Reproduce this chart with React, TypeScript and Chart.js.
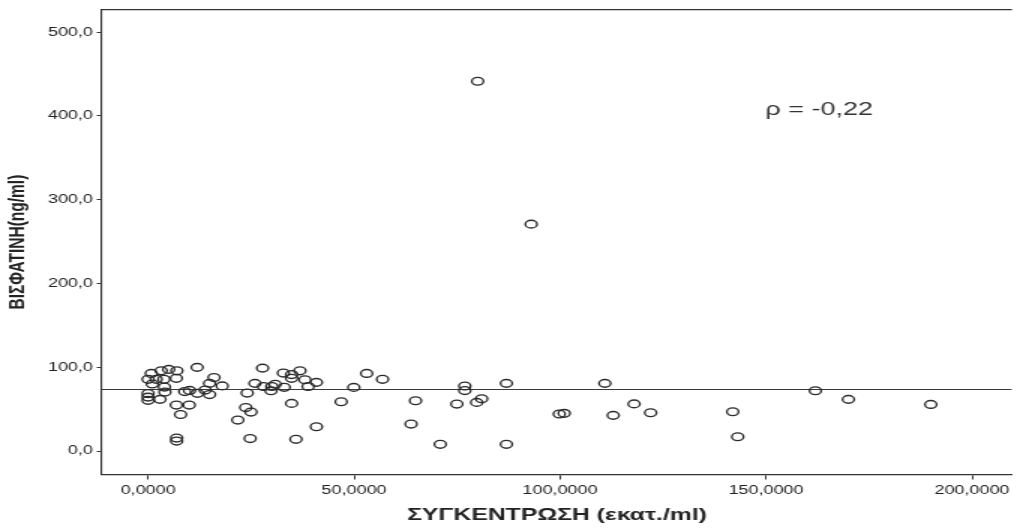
import { useEffect, useRef } from "react";
import { Chart, registerables } from "chart.js";

Chart.register(...registerables);

// Sperm concentration (million/ml) per subject
const concentration = [
  0.77, 3.18, 5.0, 6.98, 0.0, 1.97, 3.85, 6.86, 1.03, 3.97, 4.09, 0.0, 0.0, 0.0,
  2.89, 11.91, 16.0, 14.92, 18.0, 8.9, 10.06, 11.98, 13.84, 14.92, 6.86, 9.99,
  7.89, 6.93, 6.93, 27.79, 25.94, 24.06, 23.7, 24.98, 21.78, 24.78, 28.03, 30.03,
  30.85, 29.84, 33.04, 32.84, 34.84, 36.86, 34.84, 38.07, 40.86, 38.86, 34.84,
  40.86, 35.9, 46.87, 49.93, 53.06, 56.91, 64.92, 63.84, 70.93, 76.88, 76.88,
  74.95, 79.76, 80.97, 86.98, 86.98, 99.81, 101.01, 110.88, 112.9, 117.97,
  121.99, 141.92, 143.12, 161.98, 170.0, 190.0, 80.0, 93.0,
];

// Visfatin (ng/ml) per subject
const visfatin = [
  92.7, 95.8, 97.5, 95.8, 85.6, 85.6, 85.6, 86.8, 80.0, 76.4, 70.4, 68.6, 64.4,
  60.5, 61.7, 99.9, 87.7, 80.8, 77.8, 71.0, 72.4, 68.9, 72.8, 67.4, 54.9, 54.9,
  43.6, 15.5, 11.9, 99.0, 80.8, 69.2, 51.9, 46.5, 37.0, 14.9, 77.0, 77.0, 79.7,
  72.0, 76.1, 93.1, 91.3, 95.8, 86.8, 85.1, 82.0, 77.0, 56.9, 29.0, 14.0, 58.8,
  76.0, 92.7, 85.6, 60.0, 32.2, 8.0, 77.6, 72.2, 56.1, 58.1, 62.4, 80.8, 8.0,
  44.2, 45.0, 80.8, 42.6, 56.3, 45.7, 46.9, 17.1, 72.0, 61.7, 55.7, 441.5, 270.9,
];

const xTickValues = [0, 50, 100, 150, 200];
const yTickValues = [0, 100, 200, 300, 400, 500];

// Horizontal reference level of visfatin
const referenceLevel = 73.5;
const rhoLabel = "ρ = -0,22";
const xTitle = "ΣΥΓΚΕΝΤΡΩΣΗ (εκατ./ml)";
const yTitle = "ΒΙΣΦΑΤΙΝΗ(ng/ml)";

const X_MIN = -11.19;
const X_MAX = 209.7;
const Y_MIN = -28.0;
const Y_MAX = 526.9;

const FONT = "'Liberation Sans', Arial, Helvetica, sans-serif";
const INK = "#222";
const AXIS = "#333";

const fmt = (v: number, d: number) => v.toFixed(d).replace(".", ",");

export default function App() {
  const canvasRef = useRef<HTMLCanvasElement | null>(null);

  useEffect(() => {
    const canvas = canvasRef.current;
    if (!canvas) return;

    const points = concentration.map((x, i) => ({ x, y: visfatin[i] }));

    const topFrame = {
      id: "topFrame",
      afterDraw(chart: any) {
        const { ctx, chartArea } = chart;
        ctx.save();
        ctx.strokeStyle = AXIS;
        ctx.lineWidth = 1.3;
        ctx.beginPath();
        ctx.moveTo(chartArea.left, chartArea.top);
        ctx.lineTo(chartArea.right, chartArea.top);
        ctx.stroke();
        ctx.restore();
      },
    };

    const rhoText = {
      id: "rhoText",
      afterDraw(chart: any) {
        const { ctx, scales } = chart;
        ctx.save();
        ctx.fillStyle = "#333";
        ctx.font = `18px ${FONT}`;
        ctx.textAlign = "left";
        ctx.textBaseline = "middle";
        ctx.fillText(rhoLabel, scales.x.getPixelForValue(149.8), scales.y.getPixelForValue(407));
        ctx.restore();
      },
    };

    const chart = new Chart(canvas, {
      type: "scatter",
      data: {
        datasets: [
          {
            data: [
              { x: X_MIN, y: referenceLevel },
              { x: X_MAX, y: referenceLevel },
            ],
            showLine: true,
            borderColor: "#3a3a3a",
            borderWidth: 1.2,
            pointRadius: 0,
            order: 2,
          },
          {
            data: points,
            pointStyle: "circle",
            pointRadius: 3.9,
            pointBorderWidth: 1.35,
            pointBorderColor: "#2a2a2a",
            pointBackgroundColor: "rgba(0,0,0,0)",
            order: 1,
          },
        ],
      },
      options: {
        animation: false,
        responsive: false,
        events: [],
        layout: { padding: { top: 9.5, left: 0, right: 0, bottom: 0 } },
        plugins: { legend: { display: false }, tooltip: { enabled: false } },
        scales: {
          x: {
            type: "linear",
            min: X_MIN,
            max: X_MAX,
            afterBuildTicks: (s: any) => {
              s.ticks = xTickValues.map((value) => ({ value }));
            },
            afterFit: (s: any) => {
              s.height = 53.5;
            },
            ticks: {
              callback: (v: any) => fmt(Number(v), 4),
              color: INK,
              font: { family: FONT, size: 12 },
              padding: 4,
              maxRotation: 0,
              autoSkip: false,
            },
            grid: { drawOnChartArea: false, drawTicks: true, tickLength: 5, color: AXIS, lineWidth: 1 },
            border: { display: true, color: AXIS, width: 1.3 },
            title: {
              display: true,
              text: xTitle,
              color: INK,
              font: { family: FONT, size: 16.5, weight: "bold" },
              padding: { top: 0, bottom: 2.2 },
            },
          },
          y: {
            type: "linear",
            min: Y_MIN,
            max: Y_MAX,
            afterBuildTicks: (s: any) => {
              s.ticks = yTickValues.map((value) => ({ value }));
            },
            afterFit: (s: any) => {
              s.width = 68;
            },
            ticks: {
              callback: (v: any) => fmt(Number(v), 1),
              color: INK,
              font: { family: FONT, size: 12 },
              padding: 2.5,
              autoSkip: false,
            },
            grid: { drawOnChartArea: false, drawTicks: true, tickLength: 3.5, color: AXIS, lineWidth: 1 },
            border: { display: true, color: AXIS, width: 1.1 },
            title: {
              display: true,
              text: yTitle,
              color: INK,
              font: { family: FONT, size: 15.5, weight: "bold" },
              padding: { top: 2.7, bottom: 0 },
            },
          },
        },
      },
      plugins: [topFrame, rhoText],
    } as any);

    return () => chart.destroy();
  }, []);

  return (
    <div
      style={{
        position: "absolute",
        left: 0,
        top: 0,
        width: 1018,
        height: 528,
        overflow: "hidden",
        background: "#fff",
      }}
    >
      <canvas
        ref={canvasRef}
        width={680}
        height={528}
        style={{ width: "1020px", height: "528px", display: "block" }}
      />
    </div>
  );
}
